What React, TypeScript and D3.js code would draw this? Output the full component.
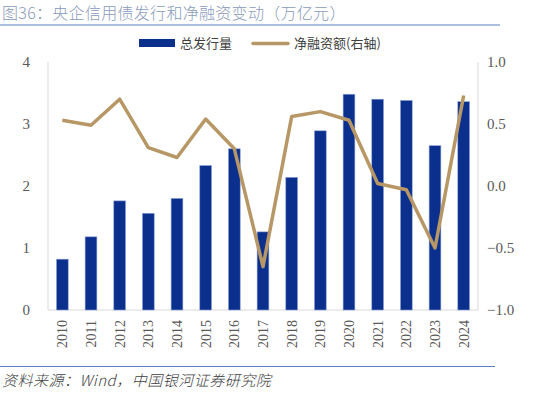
import React from "react";
import * as d3 from "d3";

const years = ["2010", "2011", "2012", "2013", "2014", "2015", "2016", "2017", "2018", "2019", "2020", "2021", "2022", "2023", "2024"];
const issuance = [0.82, 1.18, 1.76, 1.56, 1.8, 2.33, 2.6, 1.26, 2.14, 2.89, 3.48, 3.4, 3.38, 2.65, 3.36];
const netFinancing = [0.53, 0.49, 0.7, 0.31, 0.23, 0.54, 0.3, -0.65, 0.56, 0.6, 0.53, 0.02, -0.03, -0.5, 0.73];
const leftTicks = [0, 1, 2, 3, 4];
const rightTicks = [-1, -0.5, 0, 0.5, 1];

const W = 550;
const H = 395;
const m = { left: 48, right: 478, top: 62, bottom: 310 };

const numFont = "'Liberation Serif', 'DejaVu Serif', serif";
const cjkFont = "'Noto Sans CJK SC', sans-serif";

export default function App() {
  const x = d3.scaleBand<string>().domain(years).range([m.left, m.right]).paddingInner(0.59).paddingOuter(0.295);
  const yL = d3.scaleLinear().domain([0, 4]).range([m.bottom, m.top]);
  const yR = d3.scaleLinear().domain([-1, 1]).range([m.bottom, m.top]);
  const cx = (d: string) => (x(d) ?? 0) + x.bandwidth() / 2;

  const line = d3
    .line<number>()
    .x((_, i) => cx(years[i]))
    .y((d) => yR(d));

  return (
    <svg width={W} height={H} style={{ position: "absolute", left: 0, top: 0, background: "#fff" }}>
      <text x={2} y={19} fontFamily={cjkFont} fontSize={16} fontWeight={300} letterSpacing={0.3} fill="#8a9bbb">
        图36：央企信用债发行和净融资变动（万亿元）
      </text>
      <line x1={0} x2={500} y1={25} y2={25} stroke="#5b7cc0" strokeWidth={1.2} />

      {/* legend */}
      <rect x={139} y={39} width={36} height={8} fill="#0a2f8c" />
      <text x={180} y={48} fontFamily={cjkFont} fontSize={13} fill="#404040">总发行量</text>
      <line x1={253} x2={288} y1={43.5} y2={43.5} stroke="#b89766" strokeWidth={3.5} strokeLinecap="round" />
      <text x={294} y={48} fontFamily={cjkFont} fontSize={13} fill="#404040">净融资额(右轴)</text>

      {/* axes */}
      <line x1={m.left} x2={m.left} y1={m.top} y2={m.bottom} stroke="#d9d9d9" />
      <line x1={m.right} x2={m.right} y1={m.top} y2={m.bottom} stroke="#d9d9d9" />
      <line x1={m.left} x2={m.right} y1={m.bottom} y2={m.bottom} stroke="#d9d9d9" />

      {leftTicks.map((t) => (
        <text key={t} x={30} y={yL(t) + 5} textAnchor="end" fontFamily={numFont} fontSize={15} fill="#595959">
          {t}
        </text>
      ))}
      {rightTicks.map((t) => (
        <text key={t} x={487} y={yR(t) + 5} fontFamily={numFont} fontSize={15} fill="#595959">
          {d3.format(".1f")(t)}
        </text>
      ))}

      {issuance.map((v, i) => (
        <rect
          key={years[i]}
          x={x(years[i])}
          y={yL(v)}
          width={x.bandwidth()}
          height={yL(0) - yL(v)}
          fill="#0a2f8c"
          stroke="#8da2d6"
          strokeWidth={0.6}
        />
      ))}

      <path d={line(netFinancing) ?? ""} fill="none" stroke="#b89766" strokeWidth={3.5} strokeLinejoin="round" />

      {years.map((y) => (
        <text
          key={y}
          transform={`translate(${cx(y) + 5},${320}) rotate(-90)`}
          textAnchor="end"
          fontFamily={numFont}
          fontSize={14}
          fill="#595959"
        >
          {y}
        </text>
      ))}

      <line x1={0} x2={495} y1={366.5} y2={366.5} stroke="#5b7cc0" strokeWidth={1.2} />
      <text x={2} y={386} fontFamily={cjkFont} fontSize={15} fontWeight={300} fontStyle="italic" letterSpacing={0.5} fill="#404040">
        资料来源：Wind，中国银河证券研究院
      </text>
    </svg>
  );
}
